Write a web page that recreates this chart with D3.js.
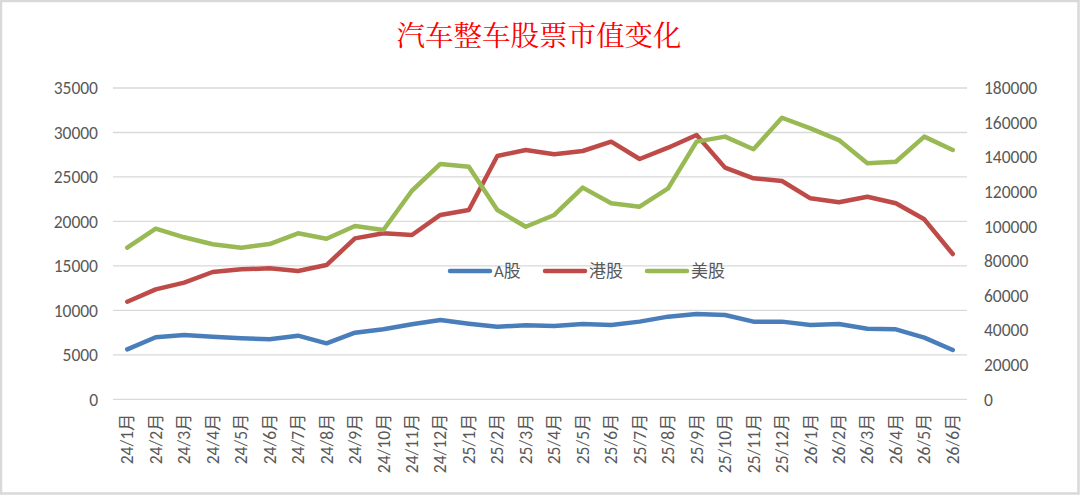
<!DOCTYPE html>
<html>
<head>
<meta charset="utf-8">
<script src="https://cdn.jsdelivr.net/npm/d3@7"></script>
<style>
  html, body { margin: 0; padding: 0; background: #fff; }
  svg { display: block; }
</style>
</head>
<body>
<svg id="chart" width="1080" height="495"></svg>
<script>
// 汽车整车股票市值变化 — A股/港股 左轴，美股 右轴

const months = ['24/1月','24/2月','24/3月','24/4月','24/5月','24/6月','24/7月','24/8月','24/9月','24/10月',
  '24/11月','24/12月','25/1月','25/2月','25/3月','25/4月','25/5月','25/6月','25/7月','25/8月',
  '25/9月','25/10月','25/11月','25/12月','26/1月','26/2月','26/3月','26/4月','26/5月','26/6月'];

const aShare = [5630, 6980, 7240, 7050, 6870, 6750, 7160, 6300, 7500, 7880,
  8440, 8920, 8510, 8170, 8330, 8250, 8470, 8360, 8740, 9300,
  9600, 9490, 8740, 8740, 8360, 8470, 7950, 7880, 6940, 5550];

const hkShare = [10980, 12370, 13120, 14320, 14620, 14730, 14430, 15100, 18100, 18670,
  18480, 20730, 21290, 27360, 28030, 27550, 27920, 28970, 27020, 28290,
  29720, 26050, 24850, 24550, 22600, 22150, 22780, 22040, 20240, 16340];

const usShare = [87700, 98700, 93700, 89700, 87700, 89800, 96000, 92900, 100200, 97900,
  120600, 136100, 134500, 109500, 99800, 106600, 122400, 113400, 111400, 122000,
  149000, 151900, 144600, 162800, 156700, 149900, 136500, 137400, 151900, 144200];

const leftTicks = [0, 5000, 10000, 15000, 20000, 25000, 30000, 35000];
const rightTicks = [0, 20000, 40000, 60000, 80000, 100000, 120000, 140000, 160000, 180000];

const series = [
  { name: 'A股', values: aShare, axis: 'left', color: '#4A7EBB' },
  { name: '港股', values: hkShare, axis: 'left', color: '#BE4B48' },
  { name: '美股', values: usShare, axis: 'right', color: '#98B954' },
];

const W = 1080, H = 495;
const plot = { left: 113, right: 967, top: 88, bottom: 399.4 };
const AX = '#595959';
const FONT = 'Calibri, Carlito, "Liberation Sans", "Noto Sans CJK SC", sans-serif';

const svg = d3.select('#chart');

// 外框
svg.append('rect').attr('x', 1).attr('y', 1).attr('width', W - 2.5).attr('height', H - 2.5)
  .attr('fill', '#fff').attr('stroke', '#D9D9D9').attr('stroke-width', 2.5);

// 标题
svg.append('text').text('汽车整车股票市值变化')
  .attr('x', 539).attr('y', 46)
  .attr('text-anchor', 'middle')
  .attr('font-family', '"Noto Serif CJK SC", "Noto Sans CJK SC", serif')
  .attr('font-size', 28.5)
  .attr('fill', '#FF0000');

const x = d3.scaleBand().domain(months).range([plot.left, plot.right]);
const yL = d3.scaleLinear().domain([0, 35000]).range([plot.bottom, plot.top]);
const yR = d3.scaleLinear().domain([0, 180000]).range([plot.bottom, plot.top]);

// 网格线（左轴）
svg.append('g').selectAll('line').data(leftTicks).join('line')
  .attr('x1', plot.left).attr('x2', plot.right)
  .attr('y1', d => yL(d)).attr('y2', d => yL(d))
  .attr('stroke', '#D9D9D9').attr('stroke-width', 1.3);

// 左轴
const gL = svg.append('g').attr('transform', `translate(${plot.left - 15},0)`)
  .call(d3.axisLeft(yL).tickValues(leftTicks).tickSize(0).tickPadding(0).tickFormat(d3.format('d')));
gL.select('.domain').remove();
gL.selectAll('text').attr('fill', AX).attr('font-family', FONT).attr('font-size', 17.5);

// 右轴
const gR = svg.append('g').attr('transform', `translate(${plot.right + 17},0)`)
  .call(d3.axisRight(yR).tickValues(rightTicks).tickSize(0).tickPadding(0).tickFormat(d3.format('d')));
gR.select('.domain').remove();
gR.selectAll('text').attr('fill', AX).attr('font-family', FONT).attr('font-size', 17.5);

// X 轴标签（竖排）
const gX = svg.append('g').attr('transform', `translate(0,${plot.bottom + 14})`)
  .call(d3.axisBottom(x).tickSize(0).tickPadding(0));
gX.select('.domain').remove();
gX.selectAll('text')
  .attr('fill', AX).attr('font-family', FONT).attr('font-size', 17.5)
  .attr('text-anchor', 'end')
  .attr('dy', '0.35em').attr('dx', 0).attr('y', 0)
  .attr('transform', 'rotate(-90)');

// 折线
const cx = d => x(d) + x.bandwidth() / 2;
series.forEach(s => {
  const yS = s.axis === 'left' ? yL : yR;
  const line = d3.line().x((v, i) => cx(months[i])).y(v => yS(v));
  svg.append('path').datum(s.values)
    .attr('d', line)
    .attr('fill', 'none').attr('stroke', s.color)
    .attr('stroke-width', 4.5)
    .attr('stroke-linejoin', 'round').attr('stroke-linecap', 'round');
});

// 图例
const legendX = [450, 545, 647];
const gLeg = svg.append('g');
series.forEach((s, i) => {
  const g = gLeg.append('g').attr('transform', `translate(${legendX[i]},271)`);
  g.append('line').attr('x1', 0).attr('x2', 40).attr('y1', 0).attr('y2', 0)
    .attr('stroke', s.color).attr('stroke-width', 4.5).attr('stroke-linecap', 'round');
  g.append('text').text(s.name).attr('x', 44).attr('y', 0).attr('dy', '0.36em')
    .attr('fill', AX).attr('font-family', FONT).attr('font-size', 17);
});
</script>
</body>
</html>
